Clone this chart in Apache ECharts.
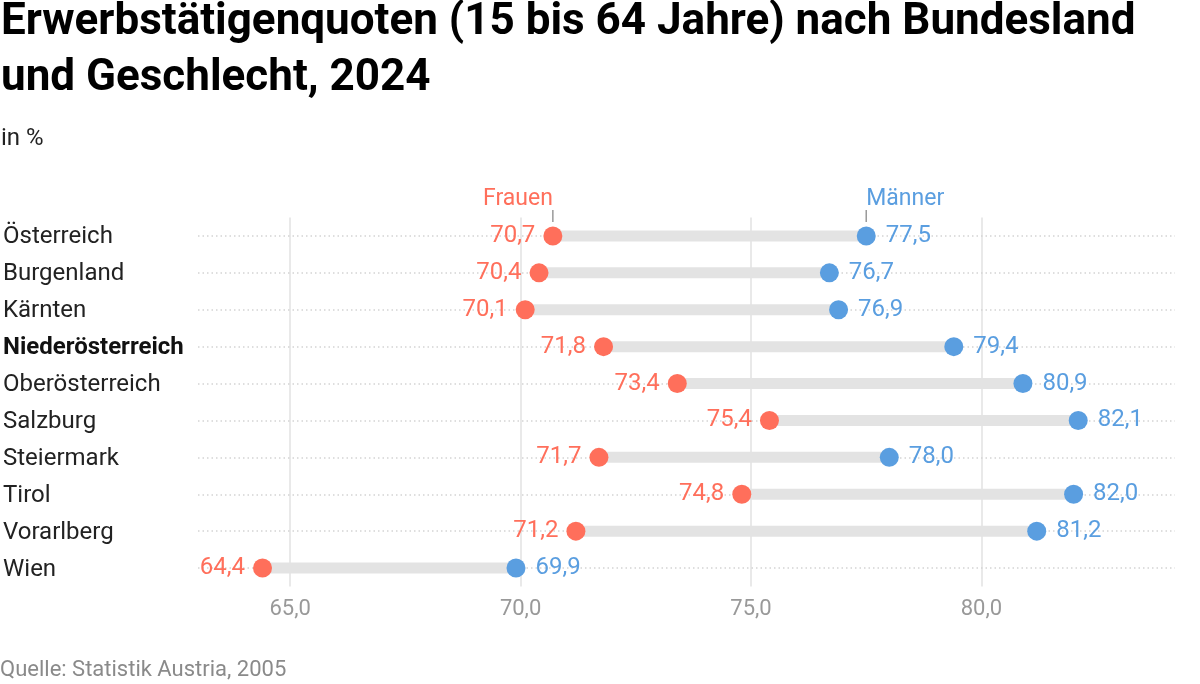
<!DOCTYPE html>
<html>
<head>
<meta charset="utf-8">
<script src="https://cdn.jsdelivr.net/npm/echarts@6/dist/echarts.min.js"></script>
<style>
  html, body { margin: 0; padding: 0; background: #fff; }
  #chart { width: 1200px; height: 684px; }
</style>
</head>
<body>
<div id="chart"></div>
<script>
const laender = ['Österreich', 'Burgenland', 'Kärnten', 'Niederösterreich', 'Oberösterreich',
  'Salzburg', 'Steiermark', 'Tirol', 'Vorarlberg', 'Wien']
const frauen = [70.7, 70.4, 70.1, 71.8, 73.4, 75.4, 71.7, 74.8, 71.2, 64.4]
const maenner = [77.5, 76.7, 76.9, 79.4, 80.9, 82.1, 78.0, 82.0, 81.2, 69.9]
const hervorgehoben = 'Niederösterreich'

const ROT = '#ff6f5b'
const BLAU = '#5a9ee0'
const fmt = v => v.toFixed(1).replace('.', ',')

const chart = echarts.init(document.getElementById('chart'))

chart.setOption({
  textStyle: { fontFamily: 'Roboto' },
  animation: false,
  title: [
    {
      text: 'Erwerbstätigenquoten (15 bis 64 Jahre) nach Bundesland\nund Geschlecht, 2024',
      left: 1, top: -5, padding: 0,
      textStyle: { fontSize: 44, fontWeight: 'bold', color: '#000', lineHeight: 56, fontFamily: 'Roboto' }
    },
    {
      text: 'in %',
      left: 1, top: 127, padding: 0,
      textStyle: { fontSize: 24, fontWeight: 'normal', color: '#222', fontFamily: 'Roboto' }
    },
    {
      text: 'Quelle: Statistik Austria, 2005',
      left: 0, top: 659, padding: 0,
      textStyle: { fontSize: 22, fontWeight: 'normal', color: '#8a8a8a', fontFamily: 'Roboto' }
    }
  ],
  grid: { left: 198, right: 25, top: 217.5, height: 369 },
  xAxis: {
    type: 'value',
    min: 63,
    max: 84.2,
    splitNumber: 5,
    axisLine: { show: false },
    axisTick: { show: false },
    axisLabel: {
      fontSize: 22, color: '#999', margin: 12,
      showMinLabel: false, showMaxLabel: false,
      formatter: v => fmt(v)
    },
    splitLine: { show: true, showMinLine: false, showMaxLine: false, lineStyle: { color: '#e2e2e2', width: 1.5 } }
  },
  yAxis: {
    type: 'category',
    data: laender,
    inverse: true,
    axisLine: { show: false },
    axisTick: { show: false },
    splitLine: { show: false },
    axisLabel: {
      align: 'left',
      margin: 195,
      fontSize: 24,
      color: '#222',
      padding: [3, 0, 0, 0],
      formatter: v => v === hervorgehoben ? '{b|' + v + '}' : v,
      rich: { b: { fontWeight: 'bold', fontSize: 24, color: '#111' } }
    }
  },
  series: [
    {
      type: 'bar',
      stack: 'spanne',
      data: frauen,
      barWidth: 11,
      itemStyle: { color: 'rgba(0,0,0,0)' },
      silent: true,
      z: 1,
      markLine: {
        z: 1,
        silent: true,
        symbol: 'none',
        label: { show: false },
        lineStyle: { color: '#d4d4d4', type: [1.5, 3], width: 1.5 },
        data: laender.map(l => ({ yAxis: l }))
      }
    },
    {
      type: 'bar',
      stack: 'spanne',
      data: maenner.map((m, i) => +(m - frauen[i]).toFixed(1)),
      barWidth: 11,
      itemStyle: { color: '#e3e3e3' },
      silent: true,
      z: 3
    },
    {
      name: 'Frauen',
      type: 'scatter',
      data: frauen.map((v, i) => [v, laender[i]]),
      symbolSize: 19,
      itemStyle: { color: ROT, opacity: 1 },
      label: {
        show: true, position: 'left', distance: 8,
        fontSize: 24, color: ROT,
        formatter: p => fmt(p.value[0])
      },
      z: 5
    },
    {
      name: 'Männer',
      type: 'scatter',
      data: maenner.map((v, i) => [v, laender[i]]),
      symbolSize: 19,
      itemStyle: { color: BLAU, opacity: 1 },
      label: {
        show: true, position: 'right', distance: 10,
        fontSize: 24, color: BLAU,
        formatter: p => fmt(p.value[0])
      },
      z: 5
    },
    // Kopfbeschriftungen mit Strich über der ersten Zeile
    {
      type: 'scatter',
      data: [[frauen[0], laender[0]], [maenner[0], laender[0]]],
      symbol: 'rect',
      symbolSize: [1.5, 12],
      symbolOffset: [0, -20],
      itemStyle: { color: '#999', opacity: 1 },
      silent: true
    },
    {
      type: 'scatter',
      data: [
        { value: [frauen[0], laender[0]], label: { align: 'right', color: ROT, offset: [0, -37] }, name: 'Frauen' },
        { value: [maenner[0], laender[0]], label: { align: 'left', color: BLAU, offset: [0, -37] }, name: 'Männer' }
      ],
      symbolSize: 0,
      itemStyle: { opacity: 1 },
      silent: true,
      label: {
        show: true, position: 'inside', verticalAlign: 'middle',
        fontSize: 23,
        formatter: p => p.name
      }
    }
  ]
})
</script>
</body>
</html>
